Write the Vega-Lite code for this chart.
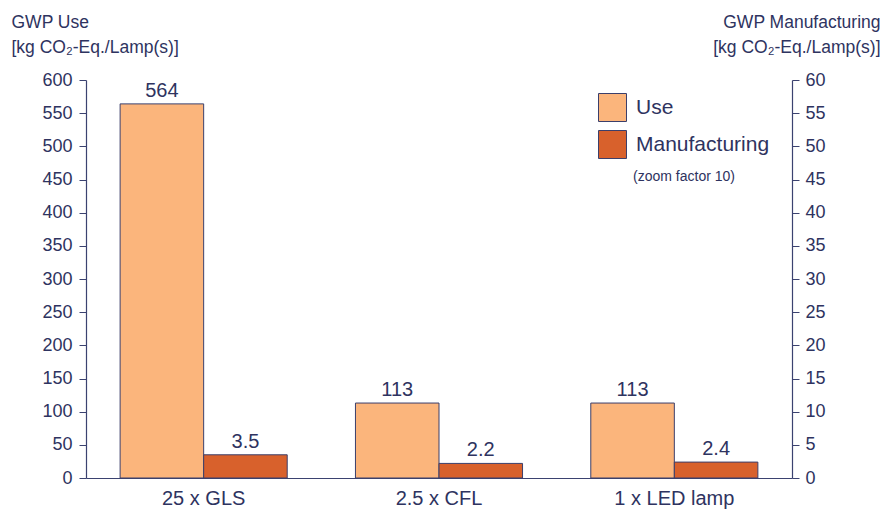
{
  "$schema": "https://vega.github.io/schema/vega-lite/v6.json",
  "autosize": "none",
  "width": 706,
  "height": 398,
  "padding": {"left": 86, "top": 80, "right": 89, "bottom": 37},
  "background": "white",
  "config": {
    "font": "Liberation Sans",
    "view": {"stroke": null},
    "axis": {"grid": false, "domainColor": "#3b4270", "tickColor": "#3b4270", "labelColor": "#2e3360", "titleColor": "#2e3360", "labelFont": "Liberation Sans", "titleFont": "Liberation Sans"}
  },
  "data": {
    "values": [
      {"lamp": "25 x GLS", "series": "Use", "value": 564},
      {"lamp": "2.5 x CFL", "series": "Use", "value": 113},
      {"lamp": "1 x LED lamp", "series": "Use", "value": 113},
      {"lamp": "25 x GLS", "series": "Manufacturing", "value": 3.5},
      {"lamp": "2.5 x CFL", "series": "Manufacturing", "value": 2.2},
      {"lamp": "1 x LED lamp", "series": "Manufacturing", "value": 2.4}
    ]
  },
  "encoding": {
    "x": {
      "field": "lamp", "type": "nominal", "sort": ["25 x GLS", "2.5 x CFL", "1 x LED lamp"],
      "scale": {"paddingInner": 0.29, "paddingOuter": 0.145},
      "axis": {"title": null, "labelAngle": 0, "labelFontSize": 20, "labelPadding": 10, "ticks": false, "domainWidth": 1.2}
    },
    "xOffset": {"field": "series", "type": "nominal", "scale": {"domain": ["Use", "Manufacturing"], "paddingInner": 0, "paddingOuter": 0}}
  },
  "layer": [
    {
      "transform": [{"filter": "datum.series === 'Use'"}],
      "encoding": {
        "y": {
          "field": "value", "type": "quantitative",
          "scale": {"domain": [0, 600], "nice": false},
          "axis": {
            "orient": "left", "values": [0,50,100,150,200,250,300,350,400,450,500,550,600],
            "labelFontSize": 18, "tickSize": 7, "labelPadding": 7, "domainWidth": 1.2,
            "title": ["GWP Use", "[kg CO₂-Eq./Lamp(s)]"], "titleAngle": 0, "titleAlign": "left", "titleBaseline": "top",
            "titleX": -75, "titleY": -67, "titleFontSize": 17.5, "titleFontWeight": "normal", "titleLineHeight": 25
          }
        }
      },
      "layer": [
        {
          "mark": {"type": "bar", "stroke": "#3b3f6b", "strokeWidth": 1},
          "encoding": {
            "fill": {
              "field": "series", "type": "nominal",
              "scale": {"domain": ["Use", "Manufacturing"], "range": ["#fbb57c", "#d8612c"]},
              "legend": {
                "orient": "none", "legendX": 512, "legendY": 13,
                "title": "(zoom factor 10)", "titleOrient": "bottom", "titleFontSize": 14, "titleFontWeight": "normal",
                "titleColor": "#2e3360", "titleAnchor": "middle", "titlePadding": 9,
                "symbolType": "square", "symbolSize": 784, "symbolStrokeColor": "#3b3f6b", "symbolStrokeWidth": 1,
                "labelFontSize": 21, "labelColor": "#2e3360", "labelOffset": 9, "rowPadding": 4
              }
            }
          }
        },
        {
          "mark": {"type": "text", "baseline": "alphabetic", "dy": -7, "fontSize": 20, "color": "#2e3360"},
          "encoding": {"text": {"field": "value", "type": "quantitative"}}
        }
      ]
    },
    {
      "transform": [{"filter": "datum.series === 'Manufacturing'"}],
      "encoding": {
        "y": {
          "field": "value", "type": "quantitative",
          "scale": {"domain": [0, 60], "nice": false},
          "axis": {
            "orient": "right", "values": [0,5,10,15,20,25,30,35,40,45,50,55,60],
            "labelFontSize": 18, "tickSize": 7, "labelPadding": 6, "domainWidth": 1.2,
            "title": ["GWP Manufacturing", "[kg CO₂-Eq./Lamp(s)]"], "titleAngle": 0, "titleAlign": "right", "titleBaseline": "top",
            "titleX": 88, "titleY": -67, "titleFontSize": 17.5, "titleFontWeight": "normal", "titleLineHeight": 25
          }
        }
      },
      "layer": [
        {
          "mark": {"type": "bar", "stroke": "#3b3f6b", "strokeWidth": 1},
          "encoding": {"fill": {"field": "series", "type": "nominal"}}
        },
        {
          "mark": {"type": "text", "baseline": "alphabetic", "dy": -7, "fontSize": 20, "color": "#2e3360"},
          "encoding": {"text": {"field": "value", "type": "quantitative", "format": ".1f"}}
        }
      ]
    }
  ],
  "resolve": {"scale": {"y": "independent"}}
}
